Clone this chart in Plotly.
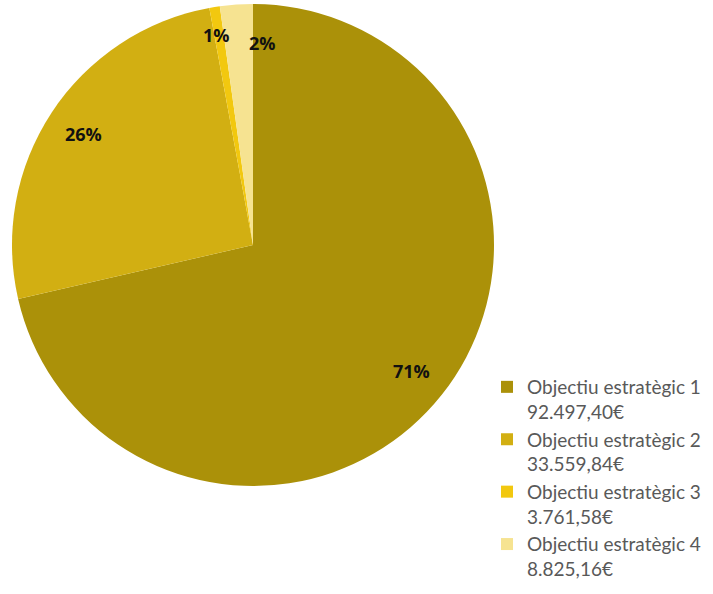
import math
import plotly.graph_objects as go

# shares (percent of the circle)
shares = [71.4, 25.7, 0.7, 2.2]
names = ["Objectiu estratègic 1", "Objectiu estratègic 2",
         "Objectiu estratègic 3", "Objectiu estratègic 4"]
amounts = ["92.497,40€", "33.559,84€", "3.761,58€", "8.825,16€"]
colors = ["#AB9109", "#D2AF12", "#F2C80F", "#F6E391"]

W, H = 713, 594
cx, cy, r = 253, 245, 241  # pie centre / radius in pixels

fig = go.Figure()
fig.add_trace(go.Pie(
    values=shares,
    labels=[f"{n}<br>{a}" for n, a in zip(names, amounts)],
    sort=False,
    direction="clockwise",
    rotation=0,
    textinfo="none",
    hoverinfo="label+percent",
    marker=dict(colors=colors, line=dict(width=0)),
    domain=dict(x=[(cx - r) / W, (cx + r) / W], y=[1 - (cy + r) / H, 1 - (cy - r) / H]),
))

# percentage labels at 84% of the radius, mid-angle of each slice
total = sum(shares)
start = 0
for i, v in enumerate(shares):
    mid = (start + v / 2) / total * 2 * math.pi
    start += v
    px_ = cx + 0.84 * r * math.sin(mid)
    py_ = cy - 0.84 * r * math.cos(mid)
    fig.add_annotation(
        x=px_ / W, y=1 - py_ / H, xref="paper", yref="paper",
        xanchor="center", yanchor="middle",
        text=f"<b>{round(v / total * 100)}%</b>", showarrow=False,
        font=dict(family="Open Sans", size=18, color="#111111"),
        xshift=[0, 0, -4, 23][i], yshift=[0, 0, 10, 0][i],
    )

fig.update_layout(
    width=W, height=H,
    margin=dict(l=0, r=0, t=0, b=0),
    paper_bgcolor="white",
    showlegend=True,
    legend=dict(
        x=487 / W, y=1 - 368 / H, xanchor="left", yanchor="top",
        valign="top",
        font=dict(family="Lato", size=19, color="#595959"),
        itemwidth=30,
    ),
)

# drop the default 8px body margin so the figure fills the window
fig.write_html("out.html", config={"displayModeBar": False},
               post_script="document.body.style.margin='0';")
